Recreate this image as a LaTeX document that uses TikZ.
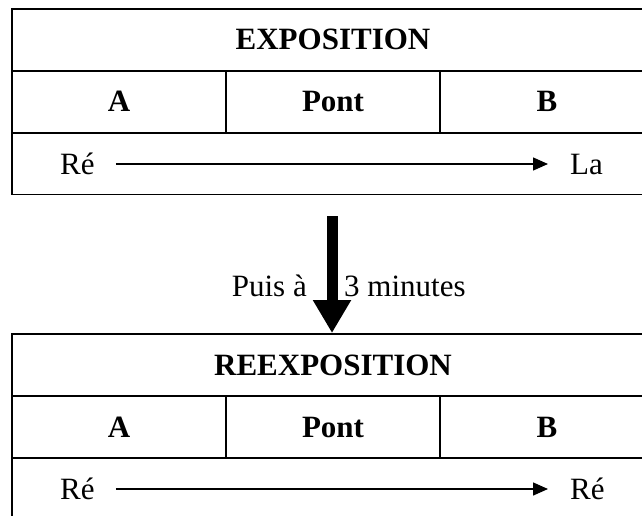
\documentclass[tikz,border=0pt]{standalone}
\usepackage{fontspec}
\setmainfont{Liberation Serif}
\usetikzlibrary{arrows.meta}
\begin{document}
\begin{tikzpicture}[x=1pt,y=-1pt,
  every node/.style={font=\fontsize{31}{37}\selectfont, inner sep=0pt},
  cell/.style={draw, line width=1.9pt, minimum height=62pt, text height=20pt, text depth=0pt},
  wide/.style={cell, minimum width=642pt},
  col/.style={cell, minimum width=214pt, font=\fontsize{31}{37}\selectfont\bfseries},
  lbl/.style={text height=20pt, text depth=0pt},
  thin/.style={line width=1.4pt, -{Triangle[length=15pt,width=13pt]}, shorten <=21pt, shorten >=22pt},
  big/.style={line width=11pt, -{Triangle[length=33pt,width=36pt]}}
]
\useasboundingbox (0,0) rectangle (642,516);
\clip (0,0) rectangle (642,516);
% top table
\node[wide, font=\fontsize{31}{37}\selectfont\bfseries] (t1) at (333,40) {EXPOSITION};
\node[col] (a1) at (119,102) {A};
\node[col] (p1) at (333,102) {Pont};
\node[col] (b1) at (547,102) {B};
\node[wide] (r1) at (333,163.5) {};
\node[lbl, anchor=west] (re1) at (60,164) {Ré};
\node[lbl, anchor=west] (la1) at (570,164) {La};
\draw[thin] (re1.east) -- (la1.west);
% bottom table
\node[wide, font=\fontsize{31}{37}\selectfont\bfseries] (t2) at (333,365) {REEXPOSITION};
\node[col] (a2) at (119,427) {A};
\node[col] (p2) at (333,427) {Pont};
\node[col] (b2) at (547,427) {B};
\node[wide] (r2) at (333,489) {};
\node[lbl, anchor=west] (re2) at (60,489) {Ré};
\node[lbl, anchor=west] (re3) at (570,489) {Ré};
\draw[thin] (re2.east) -- (re3.west);
% big arrow
\coordinate (atop) at (332,216);
\draw[big] (atop) -- (atop |- t2.north);
\node[anchor=base east] (puis) at (307,296) {Puis à};
\node[anchor=base west] (min) at (344,296) {3 minutes};
\end{tikzpicture}
\end{document}
